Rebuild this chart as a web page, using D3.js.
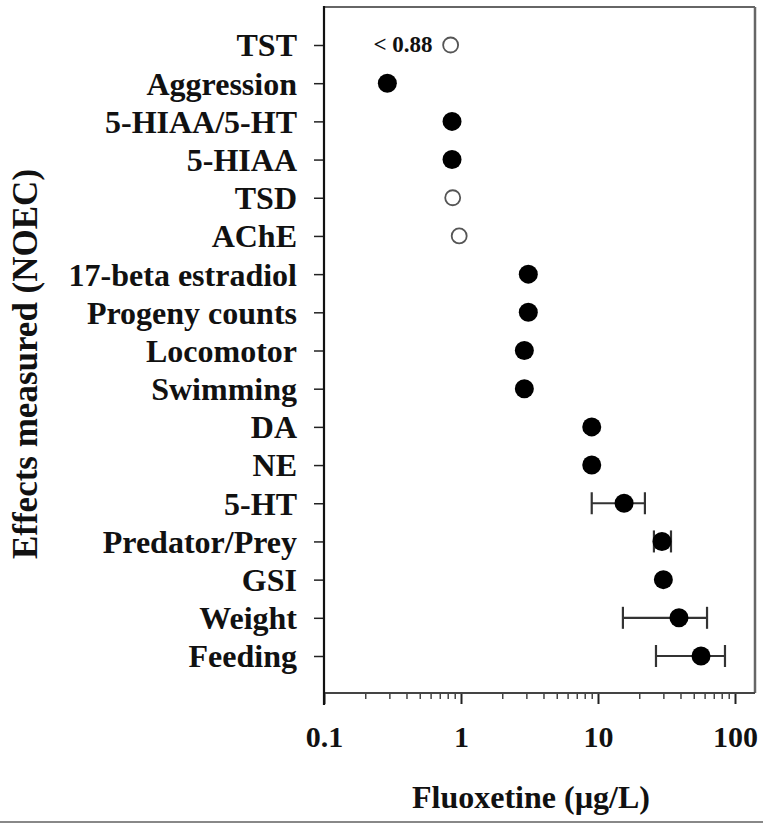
<!DOCTYPE html>
<html><head><meta charset="utf-8">
<script src="https://cdn.jsdelivr.net/npm/d3@7"></script>
<style>body{margin:0;background:#fff}svg{display:block}text{font-family:"Liberation Serif","Times New Roman",serif;font-weight:bold;fill:#111}</style>
</head><body><svg id="c" width="763" height="827"></svg>
<script>
const categories = ["TST","Aggression","5-HIAA/5-HT","5-HIAA","TSD","AChE","17-beta estradiol","Progeny counts","Locomotor","Swimming","DA","NE","5-HT","Predator/Prey","GSI","Weight","Feeding"];
const noec = [0.84,0.29,0.86,0.86,0.87,0.97,3.1,3.1,2.9,2.9,9.0,9.0,15.5,29.3,30,39,56.5];
const filled = [false,true,true,true,false,false,true,true,true,true,true,true,true,true,true,true,true];
const errLow = [null,null,null,null,null,null,null,null,null,null,null,null,9.0,25.6,null,15.2,26.5];
const errHigh = [null,null,null,null,null,null,null,null,null,null,null,null,22,34.1,null,62.5,84.5];
const annotations = [{cat:"TST", text:"< 0.88"}];
const xMajor = [0.1,1,10,100];
const xTitle = "Fluoxetine (\u00b5g/L)";
const yTitle = "Effects measured (NOEC)";

const data = categories.map((c,i)=>({cat:c,v:noec[i],filled:filled[i],lo:errLow[i],hi:errHigh[i]}));
const svg = d3.select("#c");
const L=324, R=755, T=7, B=693;
const x = d3.scaleLog().domain([0.1,100]).range([L,735]);
const y = d3.scalePoint().domain(categories).range([45,656]);

// frame top/right
svg.append("line").attr("x1",L).attr("x2",R).attr("y1",T).attr("y2",T).attr("stroke","#666").attr("stroke-width",2);
svg.append("line").attr("x1",R).attr("x2",R).attr("y1",T).attr("y2",B).attr("stroke","#666").attr("stroke-width",2.5);

// x axis minor
const minor = x.ticks().filter(v=>!xMajor.some(m=>Math.abs(m-v)<1e-9));
const gMin = svg.append("g").attr("transform",`translate(0,${B})`)
  .call(d3.axisBottom(x).tickValues(minor).tickSize(6).tickFormat(""));
gMin.select(".domain").remove();
gMin.selectAll("line").attr("stroke","#444").attr("stroke-width",1.5);
const gMaj = svg.append("g").attr("transform",`translate(0,${B})`)
  .call(d3.axisBottom(x).tickValues(xMajor).tickSize(11).tickPadding(22).tickFormat(d=>String(d)));
gMaj.select(".domain").remove();
gMaj.selectAll("line").attr("stroke","#222").attr("stroke-width",2);
gMaj.selectAll("text").attr("font-size",30).attr("font-family","Liberation Serif").attr("font-weight","bold").attr("fill","#111").attr("dy","0.71em");
svg.append("line").attr("x1",L).attr("x2",R).attr("y1",B).attr("y2",B).attr("stroke","#444").attr("stroke-width",2);

// y axis
const gy = svg.append("g").attr("transform",`translate(${L},0)`)
  .call(d3.axisLeft(y).tickSize(10).tickPadding(17));
gy.select(".domain").remove();
gy.selectAll("line").attr("stroke","#222").attr("stroke-width",1.5);
gy.selectAll("text").attr("font-size",32).attr("font-family","Liberation Serif").attr("font-weight","bold").attr("fill","#111").attr("dy","0.34em");
svg.append("line").attr("x1",L).attr("x2",L).attr("y1",T-1).attr("y2",B+12).attr("stroke","#111").attr("stroke-width",2.2);

// error bars
const eb = data.filter(d=>d.lo!=null);
const g = svg.append("g");
eb.forEach(d=>{
  const yy=y(d.cat);
  g.append("line").attr("x1",x(d.lo)).attr("x2",x(d.hi)).attr("y1",yy).attr("y2",yy).attr("stroke","#333").attr("stroke-width",2.2);
  [d.lo,d.hi].forEach(v=>g.append("line").attr("x1",x(v)).attr("x2",x(v)).attr("y1",yy-11).attr("y2",yy+11).attr("stroke","#333").attr("stroke-width",2.2));
});
// points
g.selectAll("circle").data(data).join("circle")
  .attr("cx",d=>x(d.v)).attr("cy",d=>y(d.cat))
  .attr("r",d=>d.filled?9.5:7.5)
  .attr("fill",d=>d.filled?"#000":"#fff")
  .attr("stroke",d=>d.filled?"#000":"#555")
  .attr("stroke-width",d=>d.filled?0:1.8);

// annotation
annotations.forEach(a=>{
  const d=data.find(e=>e.cat===a.cat);
  svg.append("text").attr("x",x(d.v)-18).attr("y",y(d.cat)+7).attr("text-anchor","end").attr("font-size",23).text(a.text);
});

// titles
svg.append("text").attr("x",531).attr("y",808).attr("text-anchor","middle").attr("font-size",32).text(xTitle);
svg.append("text").attr("transform","translate(37,364) rotate(-90)").attr("text-anchor","middle").attr("font-size",35).text(yTitle);

// bottom rule
svg.append("line").attr("x1",0).attr("x2",763).attr("y1",822).attr("y2",822).attr("stroke","#888").attr("stroke-width",2);
</script></body></html>
